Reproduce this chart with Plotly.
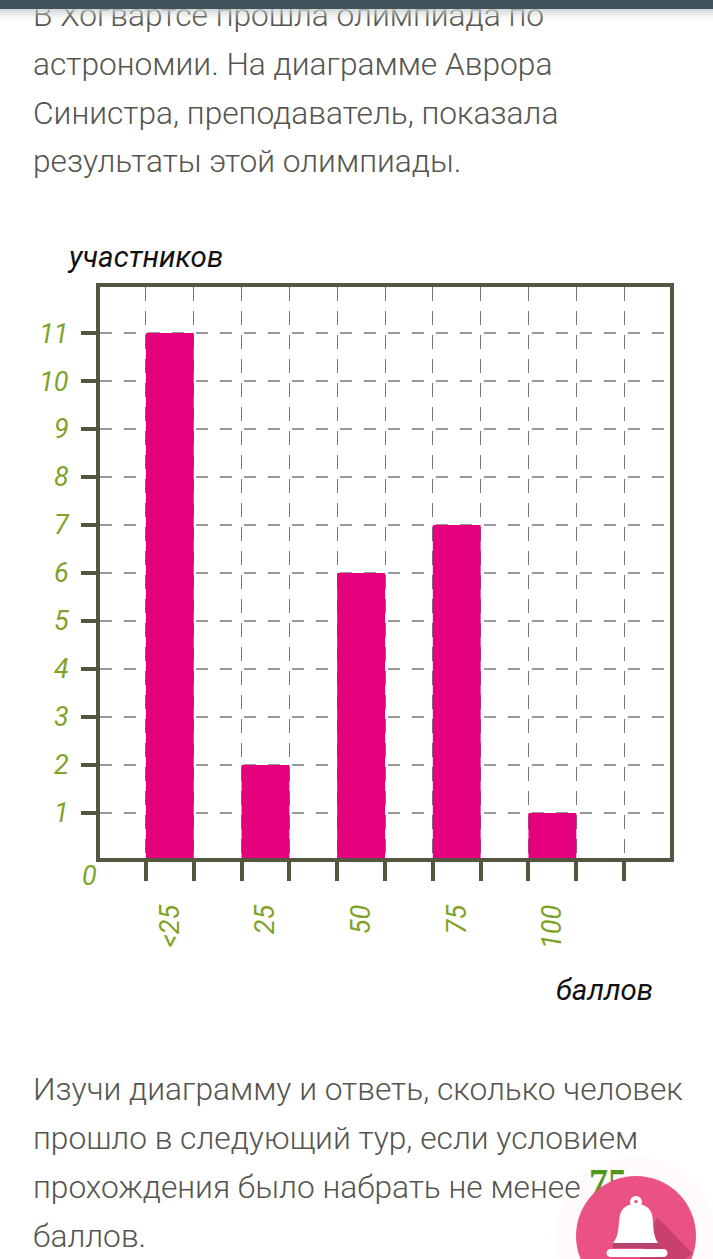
import plotly.graph_objects as go

# chart data
categories = ["<25", "25", "50", "75", "100"]
participants = [11, 2, 6, 7, 1]
bar_slots = [1.5, 3.5, 5.5, 7.5, 9.5]
grid_x = [1, 2, 3, 4, 5, 6, 7, 8, 9, 10, 11]
grid_y = [1, 2, 3, 4, 5, 6, 7, 8, 9, 10, 11]

# page text around the chart
top_lines = [
    "В Хогвартсе прошла олимпиада по",
    "астрономии. На диаграмме Аврора",
    "Синистра, преподаватель, показала",
    "результаты этой олимпиады.",
]
top_y = [18, 67, 116, 164]
bottom_lines = [
    "Изучи диаграмму и ответь, сколько человек",
    "прошло в следующий тур, если условием",
    "прохождения было набрать не менее",
    "баллов.",
]
bottom_y = [1092, 1141, 1190, 1239]

PAGE_W, PAGE_H = 713, 1259
AXIS_COLOR = "#55563f"
GREEN = "#7fa32a"
BODY_FONT = "Roboto"

fig = go.Figure()

fig.add_trace(go.Bar(
    x=bar_slots,
    y=participants,
    width=1,
    marker=dict(color="#e5007d", line=dict(width=0)),
    showlegend=False,
))

# page text lives on a second full page subplot so the shapes can cover it
fig.add_trace(go.Scatter(
    x=[33] * 8,
    y=top_y + bottom_y,
    text=top_lines + bottom_lines,
    mode="text",
    textposition="middle right",
    textfont=dict(family=BODY_FONT, size=31.7, color="#55554f", weight=300),
    xaxis="x2", yaxis="y2", showlegend=False,
))
fig.add_trace(go.Scatter(
    x=[589], y=[1185], text=["75"],
    mode="text",
    textposition="middle right",
    textfont=dict(family="Liberation Serif", size=38, color="#4a9a14", weight="bold"),
    xaxis="x2", yaxis="y2", showlegend=False,
))
fig.add_trace(go.Scatter(
    x=[69, 556, 82],
    y=[260, 993, 878],
    text=["участников", "баллов", "0"],
    mode="text",
    textposition="middle right",
    textfont=dict(family="Roboto", size=[29.5, 29.5, 27], color=["#111111", "#111111", GREEN], style="italic"),
    xaxis="x2", yaxis="y2", showlegend=False,
))

fig.update_layout(
    width=PAGE_W,
    height=PAGE_H,
    margin=dict(l=0, r=0, t=0, b=0),
    paper_bgcolor="white",
    plot_bgcolor="rgba(0,0,0,0)",
    xaxis=dict(
        domain=[100 / PAGE_W, 670 / PAGE_W],
        range=[0.04, 11.96],
        tickmode="array",
        tickvals=bar_slots,
        ticktext=categories,
        tickangle=-90,
        ticks="",
        ticklabelstandoff=32,
        tickfont=dict(family="Roboto", size=27, color=GREEN, style="italic"),
        showgrid=False,
        showline=True,
        mirror=True,
        linecolor=AXIS_COLOR,
        linewidth=4,
        zeroline=False,
        minor=dict(
            tickmode="array",
            tickvals=grid_x,
            ticks="outside",
            ticklen=19,
            tickwidth=4,
            tickcolor=AXIS_COLOR,
            showgrid=True,
            gridcolor="#777777",
            gridwidth=1,
            griddash="14px,10px",
        ),
    ),
    yaxis=dict(
        domain=[(PAGE_H - 858) / PAGE_H, (PAGE_H - 287) / PAGE_H],
        range=[0.06, 11.96],
        tickmode="array",
        tickvals=grid_y,
        ticks="outside",
        ticklen=15,
        tickwidth=4,
        tickcolor=AXIS_COLOR,
        ticklabelstandoff=7,
        tickfont=dict(family="Roboto", size=27, color=GREEN, style="italic"),
        showgrid=True,
        gridcolor="#999999",
        gridwidth=2,
        griddash="12px,12px",
        showline=True,
        mirror=True,
        linecolor=AXIS_COLOR,
        linewidth=4,
        zeroline=False,
    ),
    xaxis2=dict(domain=[0, 1], range=[0, PAGE_W], visible=False, anchor="y2"),
    yaxis2=dict(domain=[0, 1], range=[PAGE_H, 0], visible=False, anchor="x2"),
)


def page_shape(**kw):
    fig.add_shape(xref="x2", yref="y2", layer="above", line_width=0, **kw)


# top app bar and its shadow
page_shape(type="rect", x0=0, x1=PAGE_W, y0=0, y1=9, fillcolor="#3f535c")
for i, alpha in enumerate([0.75, 0.55, 0.4, 0.25, 0.15, 0.07]):
    page_shape(type="rect", x0=0, x1=PAGE_W, y0=9 + i * 2, y1=11 + i * 2,
               fillcolor="rgba(200,205,205,%s)" % alpha)

# notification button
page_shape(type="circle", x0=556, x1=716, y0=1156, y1=1316, fillcolor="rgba(240,80,130,0.03)")
page_shape(type="circle", x0=576, x1=696, y0=1176, y1=1296, fillcolor="#ea5283")
page_shape(type="path", path="M 657 1217 L 693 1254 L 684 1259 L 640 1259 Z", fillcolor="#c9406f")
page_shape(type="path", path="M 613 1243 L 660 1243 L 660 1248 L 613 1248 Z", fillcolor="#b5436e")
page_shape(type="circle", x0=630, x1=642, y0=1196, y1=1208, fillcolor="white")
page_shape(type="circle", x0=634, x1=638, y0=1200, y1=1203, fillcolor="#d05c83")
page_shape(type="path",
           path="M 613 1243 C 620 1235 618 1222 620 1215 C 622 1206 630 1204 636 1204 "
                "C 642 1204 650 1206 652 1215 C 654 1222 652 1235 658 1243 Z",
           fillcolor="white")
page_shape(type="path",
           path="M 611 1249 L 663 1249 C 669 1249 669 1257 663 1257 L 611 1257 C 605 1257 605 1249 611 1249 Z",
           fillcolor="white")

fig.write_html(
    "out.html",
    config={"displayModeBar": False},
    post_script="document.body.style.margin='0';document.body.style.overflow='hidden';",
)
